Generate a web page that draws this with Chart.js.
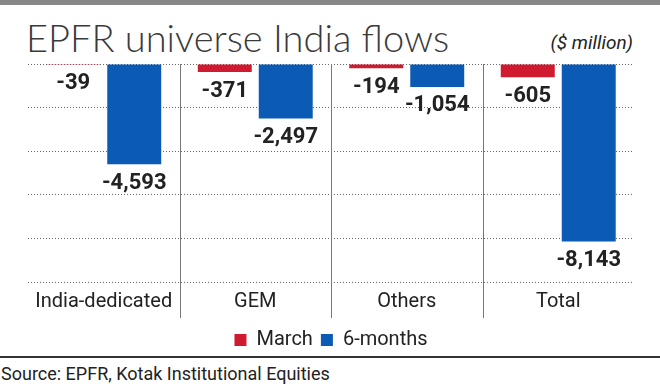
<!DOCTYPE html>
<html lang="en">
<head>
  <meta charset="UTF-8">
  <title>EPFR universe India flows</title>
  <script src="https://cdn.jsdelivr.net/npm/chart.js"></script>
  <style>
    html, body {
      margin: 0;
      padding: 0;
      background: #fff;
    }
    body {
      width: 660px;
      height: 384px;
      position: relative;
      overflow: hidden;
      font-family: Roboto, sans-serif;
      color: #222;
    }
    .topbar {
      position: absolute;
      left: 0; top: 0;
      width: 660px; height: 5px;
      background: #878787;
    }
    .title {
      position: absolute;
      left: 26px; top: 14px;
      font-family: "Lato", "Open Sans", sans-serif;
      font-weight: 300;
      font-size: 38px;
      color: #3a3a3a;
      white-space: nowrap;
    }
    .unit {
      position: absolute;
      right: 27px; top: 31px;
      font-style: italic;
      font-size: 19px;
      color: #222;
    }
    .chart-box {
      position: absolute;
      left: 0; top: 0;
      width: 660px; height: 360px;
    }
    .rule {
      position: absolute;
      left: 0; top: 356px;
      width: 660px; height: 2px;
      background: #333;
    }
    .source {
      position: absolute;
      left: 1px; top: 363px;
      font-size: 18px;
      color: #222;
      white-space: nowrap;
    }
  </style>
</head>
<body>

  <div class="topbar"></div>
  <div class="title">EPFR universe India flows</div>
  <div class="unit">($ million)</div>

  <div class="chart-box">
    <canvas id="flowChart"></canvas>
  </div>

  <div class="rule"></div>
  <div class="source">Source: EPFR, Kotak Institutional Equities</div>

  <script>
    const categories = ["India-dedicated", "GEM", "Others", "Total"];
    const marchValues = [-39, -371, -194, -605];
    const sixMonthValues = [-4593, -2497, -1054, -8143];
    const seriesNames = ["March", "6-months"];

    const font = "Roboto, sans-serif";

    // value labels under each bar end
    const valueLabels = {
      id: "valueLabels",
      afterDatasetsDraw(chart) {
        const ctx = chart.ctx;
        ctx.save();
        ctx.font = "bold 22px " + font;
        ctx.fillStyle = "#222";
        ctx.textAlign = "center";
        ctx.textBaseline = "top";
        chart.data.datasets.forEach((ds, i) => {
          chart.getDatasetMeta(i).data.forEach((bar, j) => {
            ctx.fillText(ds.data[j].toLocaleString("en-US"), bar.x, bar.y + 8);
          });
        });
        ctx.restore();
      }
    };

    // vertical separators between categories, running down past the labels
    const separators = {
      id: "separators",
      beforeDatasetsDraw(chart) {
        const x = chart.scales.x;
        const area = chart.chartArea;
        const ctx = chart.ctx;
        ctx.save();
        ctx.strokeStyle = "#777";
        ctx.lineWidth = 1;
        for (let i = 1; i < categories.length; i++) {
          const px = Math.round((x.getPixelForTick(i - 1) + x.getPixelForTick(i)) / 2) + 0.5;
          ctx.beginPath();
          ctx.moveTo(px, area.top);
          ctx.lineTo(px, area.bottom + 36);
          ctx.stroke();
        }
        ctx.restore();
      }
    };

    new Chart(document.getElementById("flowChart"), {
      type: "bar",
      data: {
        labels: categories,
        datasets: [
          {
            label: seriesNames[0],
            data: marchValues,
            backgroundColor: "#cf1a30",
            categoryPercentage: 0.805,
            barPercentage: 0.885
          },
          {
            label: seriesNames[1],
            data: sixMonthValues,
            backgroundColor: "#0b5bb4",
            categoryPercentage: 0.805,
            barPercentage: 0.885
          }
        ]
      },
      options: {
        responsive: true,
        maintainAspectRatio: false,
        animation: false,
        layout: {
          padding: { top: 64, left: 28, right: 26, bottom: 0 }
        },
        plugins: {
          tooltip: { enabled: false },
          legend: {
            position: "bottom",
            labels: {
              boxWidth: 12,
              boxHeight: 12,
              padding: 8,
              color: "#222",
              font: { family: font, size: 20 }
            }
          }
        },
        scales: {
          x: {
            grid: { display: false, drawTicks: false },
            border: { display: false },
            ticks: {
              color: "#222",
              padding: 8,
              maxRotation: 0,
              minRotation: 0,
              autoSkip: false,
              font: { family: font, size: 20 }
            }
          },
          y: {
            min: -10000,
            max: 0,
            ticks: { display: false, stepSize: 2000 },
            border: { display: false, dash: [1, 2] },
            grid: {
              drawTicks: false,
              color: "#666",
              lineWidth: 1
            }
          }
        }
      },
      plugins: [separators, valueLabels]
    });
  </script>

</body>
</html>
